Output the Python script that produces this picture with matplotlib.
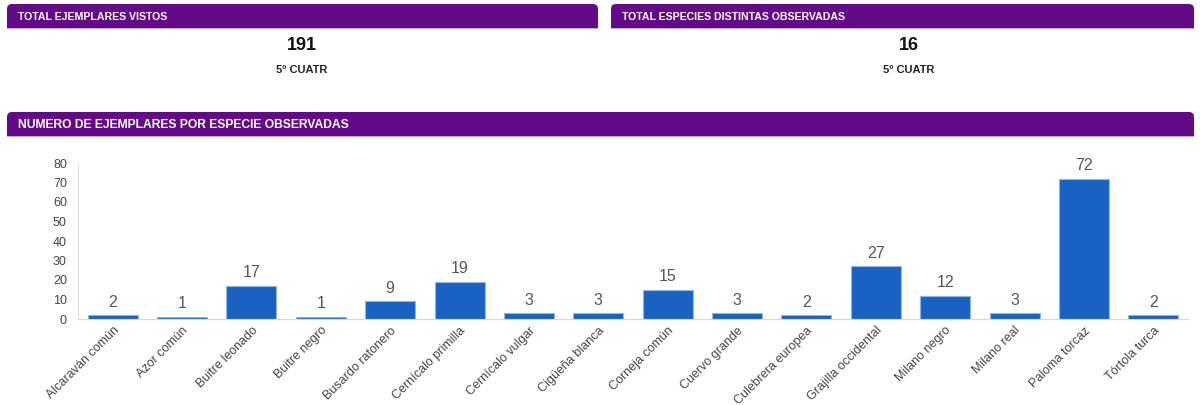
import matplotlib
matplotlib.use("Agg")
import matplotlib.pyplot as plt
import matplotlib.patches as patches
import numpy as np

plt.rcParams['font.family'] = ['Liberation Sans', 'DejaVu Sans']

# Data
especies = ["Alcaraván común", "Azor común", "Buitre leonado", "Buitre negro",
            "Busardo ratonero", "Cernícalo primilla", "Cernícalo vulgar",
            "Cigüeña blanca", "Corneja común", "Cuervo grande",
            "Culebrera europea", "Grajilla occidental", "Milano negro",
            "Milano real", "Paloma torcaz", "Tórtola turca"]
ejemplares = [2, 1, 17, 1, 9, 19, 3, 3, 15, 3, 2, 27, 12, 3, 72, 2]
y_ticks = [0, 10, 20, 30, 40, 50, 60, 70, 80]

total_titulo = "TOTAL EJEMPLARES VISTOS"
total_valor = "191"
especies_titulo = "TOTAL ESPECIES DISTINTAS OBSERVADAS"
especies_valor = "16"
periodo = "5º CUATR"
grafico_titulo = "NUMERO DE EJEMPLARES POR ESPECIE OBSERVADAS"

PURPLE = "#640a88"
PURPLE_LINE = "#c1a3d6"
BAR = "#1a62c1"

W, H = 1200, 405
fig = plt.figure(figsize=(W / 100, H / 100), dpi=100)

# Overlay in pixel coordinates for the panel headers
bg = fig.add_axes([0, 0, 1, 1])
bg.set_xlim(0, W)
bg.set_ylim(H, 0)
bg.axis("off")


def header(x0, x1, y0, y1, text, size=8.5):
    # rounded top corners, square bottom
    bg.add_patch(patches.FancyBboxPatch((x0, y0), x1 - x0, y1 - y0,
                                        boxstyle="round,pad=0,rounding_size=5",
                                        fc=PURPLE, ec="none"))
    bg.add_patch(patches.Rectangle((x0, y0 + (y1 - y0) / 2), x1 - x0, (y1 - y0) / 2,
                                   fc=PURPLE, ec="none"))
    bg.add_patch(patches.Rectangle((x0, y1), x1 - x0, 1.0, fc=PURPLE_LINE, ec="none"))
    bg.text(x0 + 11, (y0 + y1) / 2 + 0.5, text, color="white", fontsize=size,
            fontweight="bold", ha="left", va="center")


header(7, 598, 4, 28, total_titulo, 7.6)
header(611, 1194, 4, 28, especies_titulo, 7.6)
header(7, 1194, 112, 136, grafico_titulo, 8.7)

bg.text(302, 46, total_valor, fontsize=13, fontweight="bold", ha="center", va="center", color="#111")
bg.text(302, 70, periodo, fontsize=8, fontweight="bold", ha="center", va="center", color="#222")
bg.text(909, 46, especies_valor, fontsize=13, fontweight="bold", ha="center", va="center", color="#111")
bg.text(909, 70, periodo, fontsize=8, fontweight="bold", ha="center", va="center", color="#222")

# Bar chart
ax = fig.add_axes([78 / W, 86 / H, 1110 / W, 156 / H])
x = np.arange(len(especies))
bars = ax.bar(x, ejemplares, width=0.72, color=BAR, edgecolor="#8fb4e6", linewidth=0.8)
ax.set_xlim(-0.5, len(especies) - 0.5)
ax.set_ylim(0, 80)
ax.set_yticks(y_ticks)
ax.tick_params(axis="y", length=0, labelsize=9, labelcolor="#444", pad=8)
ax.tick_params(axis="x", length=0, pad=4)
ax.set_xticks(x)
ax.set_xticklabels(especies, rotation=45, ha="right", va="top",
                   rotation_mode="anchor", fontsize=9, color="#444")
for side in ["top", "right"]:
    ax.spines[side].set_visible(False)
ax.spines["left"].set_color("#e0e0e0")
ax.spines["bottom"].set_color("#d8d8d8")

for xi, v in zip(x, ejemplares):
    ax.annotate(str(v), (xi, v), xytext=(0, 4), textcoords="offset points",
                ha="center", va="bottom", fontsize=11.5, color="#555")

fig.savefig("out.png", dpi=100)
